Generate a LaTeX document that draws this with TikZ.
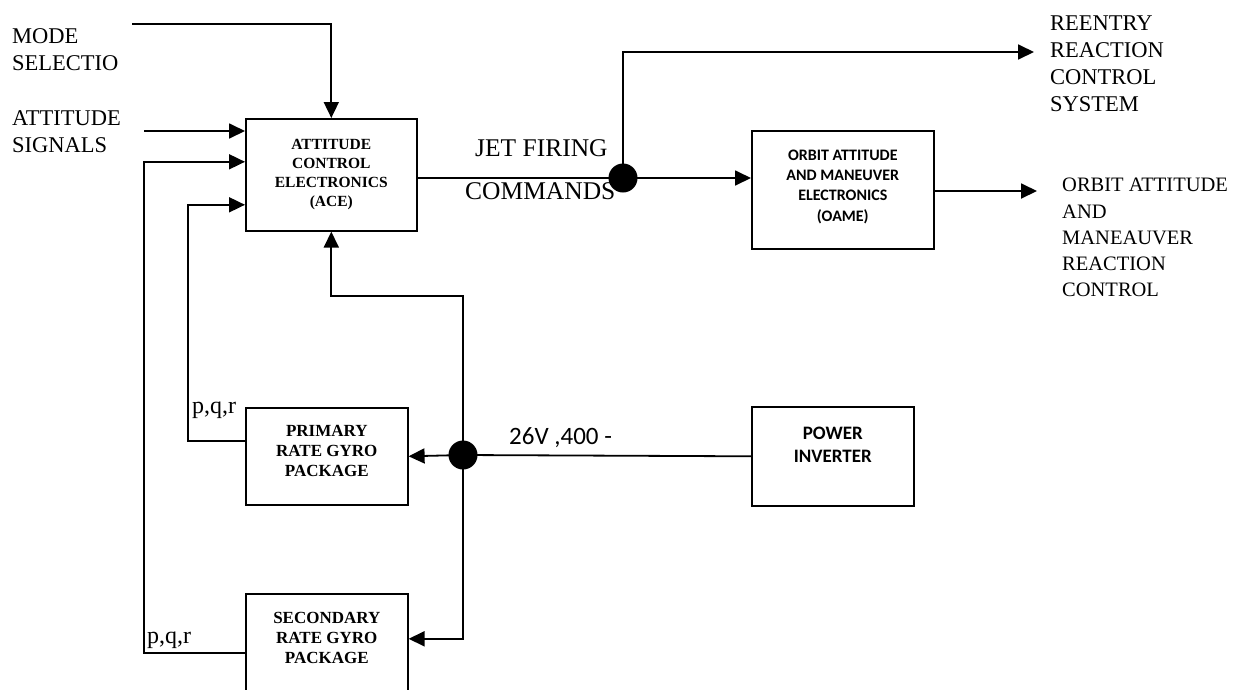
\documentclass[tikz,border=0pt]{standalone}
\usepackage{fontspec}
\setmainfont{Liberation Serif}
\newfontfamily\sansf{Carlito}
\usetikzlibrary{arrows.meta}
\tikzset{
  box/.style={draw, line width=1.6pt, anchor=north west, inner sep=0pt, align=center},
  conn/.style={line width=1.8pt, -{Triangle[length=16pt,width=15pt]}},
  wire/.style={line width=1.8pt},
  lbl/.style={font=\fontsize{22.5}{27}\selectfont, align=left, anchor=north west, inner sep=0pt},
  dot/.style={circle, fill, inner sep=0pt, minimum size=29pt},
  acetext/.style={font=\bfseries\fontsize{15.5}{19}\selectfont},
  gyrotext/.style={font=\bfseries\fontsize{17}{20}\selectfont},
  oametext/.style={font=\sansf\bfseries\fontsize{16}{20.3}\selectfont},
  invtext/.style={font=\sansf\bfseries\fontsize{19}{23}\selectfont},
  pqr/.style={lbl, font=\fontsize{24}{28}\selectfont},
}
\begin{document}
\begin{tikzpicture}[x=1pt,y=-1pt]
\useasboundingbox (0,0) rectangle (1238,689);
\clip (0,0) rectangle (1238,689);

% boxes
\node[box, acetext, minimum width=171pt, minimum height=112pt] (ace) at (245,118) {ATTITUDE\\CONTROL\\ELECTRONICS\\(ACE)};
\node[box, oametext, minimum width=182pt, minimum height=118pt, text depth=9pt] (oame) at (751,130) {ORBIT ATTITUDE\\AND MANEUVER\\ELECTRONICS\\(OAME)};
\node[box, gyrotext, minimum width=162pt, minimum height=97pt, text depth=10pt] (pri) at (245,407) {PRIMARY\\RATE GYRO\\PACKAGE};
\node[box, gyrotext, minimum width=162pt, minimum height=118pt, text depth=30pt] (sec) at (245,593) {SECONDARY\\RATE GYRO\\PACKAGE};
\node[box, invtext, minimum width=162pt, minimum height=99pt, text depth=24pt] (inv) at (751,406) {POWER\\INVERTER};

% junctions
\node[dot] (j1) at (623,178) {};
\node[dot] (j2) at (463,455) {};

% free ends
\coordinate (m0) at (132,24);
\coordinate (a0) at (144,131);
\coordinate (rend) at (1034,52);
\coordinate (oend) at (1037,191);

% labels
\node[lbl] (lmode) at (12,28) {MODE\\SELECTIO};
\node[lbl] (latt) at (12,110) {ATTITUDE\\SIGNALS};
\node[lbl] (lre) at (1050,16) {REENTRY\\REACTION\\CONTROL\\SYSTEM};
\node[lbl, font=\fontsize{20.5}{26.3}\selectfont] (loam) at (1062,178) {ORBIT ATTITUDE\\AND\\MANEAUVER\\REACTION\\CONTROL};
\node[lbl, font=\fontsize{25.5}{30}\selectfont] (ljet) at (475,139) {JET FIRING};
\node[lbl, font=\fontsize{25.5}{30}\selectfont] (lcmd) at (465,182) {COMMANDS};
\node[lbl, font=\sansf\fontsize{25}{28}\selectfont] (lv) at (509,427) {26V ,400 -};
\node[pqr] (lp1) at (192,402) {p,q,r};
\node[pqr] (lp2) at (147,632) {p,q,r};

% connectors
\draw[conn] (m0) -| (ace.north);
\draw[conn] (a0) -- (a0 -| ace.west);
\draw[conn] (sec.west) -- ++(-101,0) |- ([yshift=13pt]ace.west);
\draw[conn] ([yshift=15pt]pri.west) -- ++(-57,0) |- ([yshift=-30pt]ace.west);
\draw[conn] (j2.center) -- ++(0,-159) -| (ace.south);
\draw[wire] (inv.west) -- (j2.center);
\draw[conn] (j2.center) -- (pri.east);
\draw[conn] (j2.center) |- ([yshift=14pt]sec.east);
\draw[wire] (ace.east |- j1) -- (j1.center);
\draw[conn] (j1.center) -- (j1 -| oame.west);
\draw[conn] (j1.center) |- (rend);
\draw[conn] (oend -| oame.east) -- (oend);
\end{tikzpicture}
\end{document}
